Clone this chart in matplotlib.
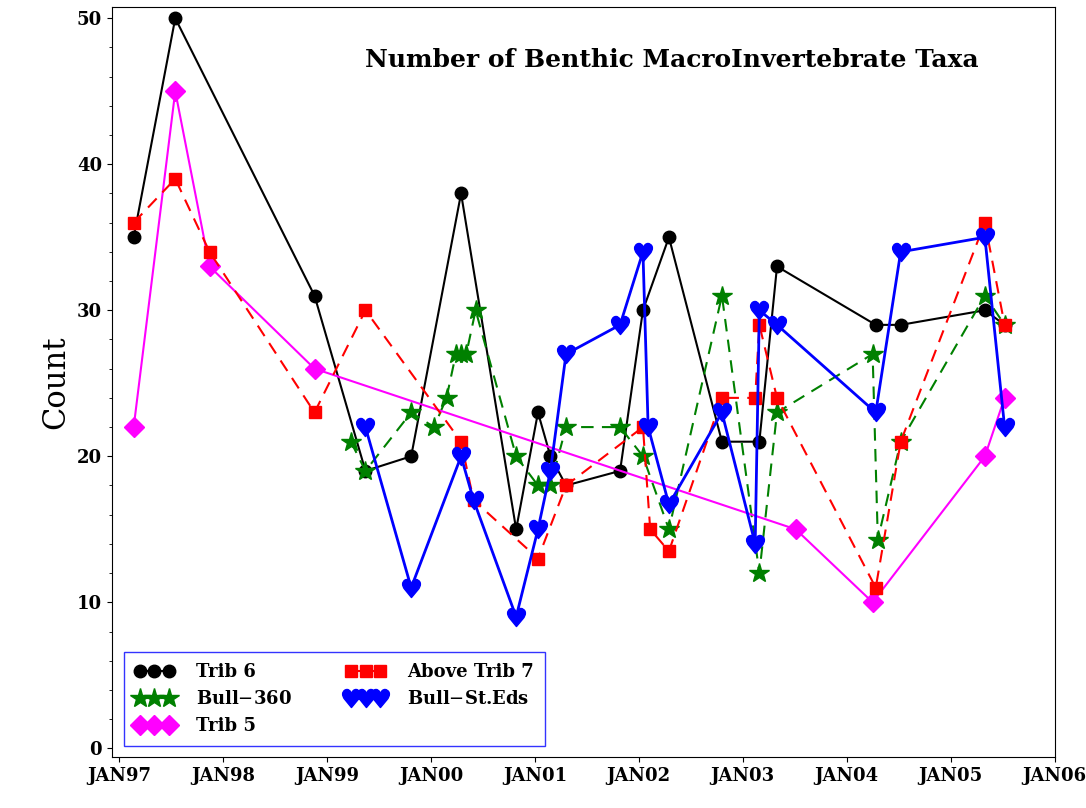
import matplotlib
matplotlib.use("Agg")
import matplotlib.pyplot as plt
from matplotlib.ticker import MultipleLocator

plt.rcParams['font.family'] = ['DejaVu Serif']

# dates as decimal years
trib6_x = [1997.14, 1997.54, 1998.88, 1999.37, 1999.81, 2000.29, 2000.82, 2001.03, 2001.15, 2001.30,
           2001.82, 2002.04, 2002.29, 2002.80, 2003.16, 2003.33, 2004.28, 2004.52, 2005.33, 2005.52]
trib6_y = [35, 50, 31, 19, 20, 38, 15, 23, 20, 18, 19, 30, 35, 21, 21, 33, 29, 29, 30, 29]

trib7_x = [1997.14, 1997.54, 1997.87, 1998.88, 1999.37, 2000.29, 2000.41, 2001.03, 2001.30, 2002.04,
           2002.11, 2002.29, 2002.80, 2003.12, 2003.16, 2003.33, 2004.28, 2004.52, 2005.33, 2005.52]
trib7_y = [36, 39, 34, 23, 30, 21, 17, 13, 18, 22, 15, 13.5, 24, 24, 29, 24, 11, 21, 36, 29]

bull360_x = [1999.23, 1999.37, 1999.81, 2000.03, 2000.15, 2000.24, 2000.29, 2000.34, 2000.43, 2000.82,
             2001.03, 2001.15, 2001.30, 2001.82, 2002.04, 2002.29, 2002.80, 2003.16, 2003.33, 2004.25,
             2004.30, 2004.52, 2005.33, 2005.52]
bull360_y = [21, 19, 23, 22, 24, 27, 27, 27, 30, 20, 18, 18, 22, 22, 20, 15, 31, 12, 23, 27,
             14.3, 21, 31, 29]

steds_x = [1999.37, 1999.81, 2000.29, 2000.41, 2000.82, 2001.03, 2001.15, 2001.30, 2001.82, 2002.04,
           2002.09, 2002.29, 2002.80, 2003.12, 2003.16, 2003.33, 2004.28, 2004.52, 2005.33, 2005.52]
steds_y = [22, 11, 20, 17, 9, 15, 19, 27, 29, 34, 22, 16.7, 23, 14, 30, 29, 23, 34, 35, 22]

trib5_x = [1997.14, 1997.54, 1997.87, 1998.88, 2003.51, 2004.25, 2005.33, 2005.52]
trib5_y = [22, 45, 33, 26, 15, 10, 20, 24]

years = list(range(1997, 2007))
year_labels = ['JAN%02d' % (y % 100) for y in years]

fig = plt.figure(figsize=(10.86, 8.08), dpi=100)
ax = fig.add_axes([0.103, 0.063, 0.868, 0.928])

l1, = ax.plot(trib6_x, trib6_y, color='black', lw=1.5, marker='o', ms=9, label='Trib 6')
l2, = ax.plot(bull360_x, bull360_y, color='green', lw=1.5, ls=(0, (6, 4)), marker='*', ms=15,
              label='Bull$-$360')
l3, = ax.plot(trib5_x, trib5_y, color='magenta', lw=1.5, marker='D', ms=10, label='Trib 5')
l4, = ax.plot(trib7_x, trib7_y, color='red', lw=1.5, ls=(0, (6, 4)), marker='s', ms=9,
              label='Above Trib 7')
l5, = ax.plot(steds_x, steds_y, color='blue', lw=2, marker='$\u2665$', ms=13,
              label='Bull$-$St.Eds')

ax.set_xlim(1996.93, 2005.97)
ax.set_ylim(-0.6, 50.75)
ax.set_xticks(years)
ax.set_xticklabels(year_labels, fontsize=13, fontweight='bold')
ax.yaxis.set_major_locator(MultipleLocator(10))
ax.yaxis.set_minor_locator(MultipleLocator(2))
for t in ax.get_yticklabels():
    t.set_fontsize(13)
    t.set_fontweight('bold')
ax.set_ylabel('Count', fontsize=22)
ax.text(0.92, 0.93, 'Number of Benthic MacroInvertebrate Taxa', transform=ax.transAxes,
        ha='right', va='center', fontsize=18, fontweight='bold')

leg = ax.legend(handles=[l1, l2, l3, l4, l5], loc='lower left', ncol=2,
                numpoints=3, handlelength=2.2, frameon=True,
                fancybox=False, edgecolor='blue', borderpad=0.6, columnspacing=3.0,
                handletextpad=1.2, prop={'weight': 'bold', 'size': 13},
                bbox_to_anchor=(0.003, 0.003))

fig.savefig('out.png', dpi=100)
